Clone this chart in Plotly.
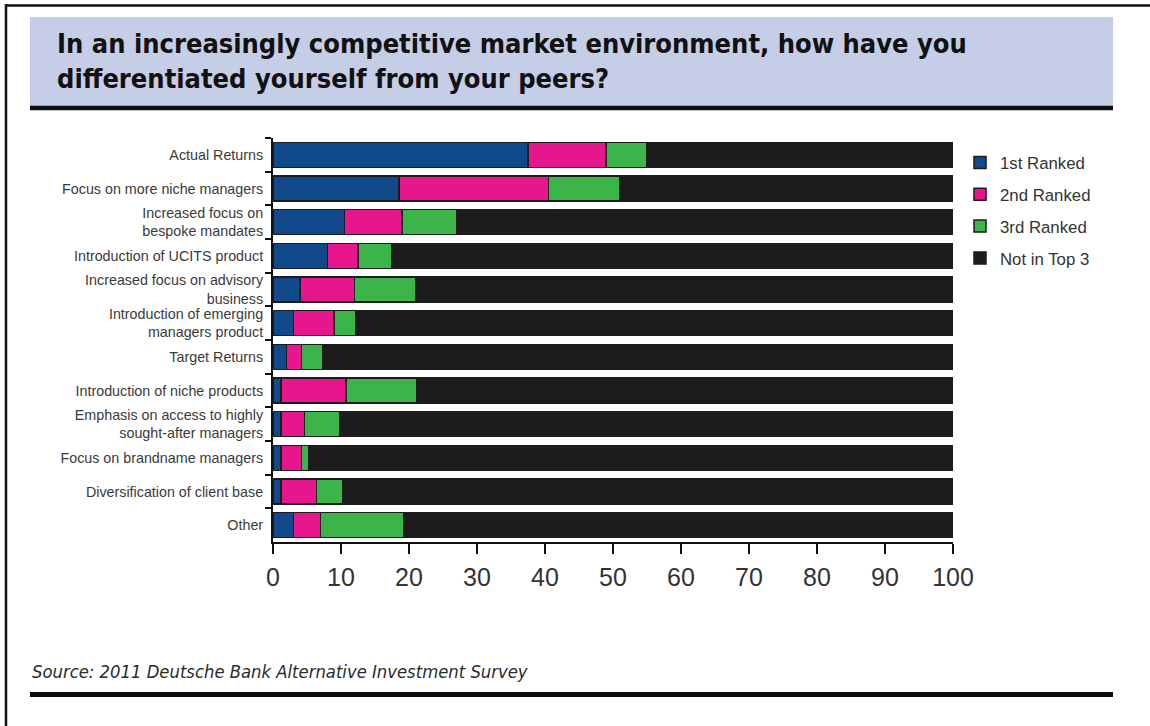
import plotly.graph_objects as go

# Survey answers, top to bottom
categories = [
    "Actual Returns",
    "Focus on more niche managers",
    "Increased focus on<br>bespoke mandates",
    "Introduction of UCITS product",
    "Increased focus on advisory<br>business",
    "Introduction of emerging<br>managers product",
    "Target Returns",
    "Introduction of niche products",
    "Emphasis on access to highly<br>sought-after managers",
    "Focus on brandname managers",
    "Diversification of client base",
    "Other",
]

# Share of respondents (%) by rank
first_ranked = [37.5, 18.5, 10.5, 8.0, 4.0, 3.0, 2.0, 1.2, 1.2, 1.2, 1.2, 3.0]
second_ranked = [11.5, 22.0, 8.5, 4.5, 8.0, 6.0, 2.2, 9.5, 3.4, 3.0, 5.2, 4.0]
third_ranked = [6.0, 10.5, 8.0, 5.0, 9.0, 3.2, 3.1, 10.5, 5.2, 1.0, 3.8, 12.3]
not_in_top3 = [round(100 - a - b - c, 1) for a, b, c in zip(first_ranked, second_ranked, third_ranked)]

series_names = ["1st Ranked", "2nd Ranked", "3rd Ranked", "Not in Top 3"]
series_values = [first_ranked, second_ranked, third_ranked, not_in_top3]
series_colors = ["#114a8a", "#e8168c", "#3bb54a", "#1e1b1c"]

x_ticks = list(range(0, 101, 10))

# Plot-area geometry in page pixels
W, H = 1150, 726
PL, PR, PT, PB = 273, 953, 138, 542

CONDENSED = "Liberation Sans Narrow, DejaVu Sans Condensed, Arial Narrow, sans-serif"


def px_x(v):
    return (v - PL) / (PR - PL)


def px_y(v):
    return (PB - v) / (PB - PT)


fig = go.Figure()
for name, vals, col in zip(series_names, series_values, series_colors):
    fig.add_trace(go.Bar(
        name=name,
        y=categories,
        x=vals,
        orientation="h",
        legendgroup=name,
        marker=dict(color=col, line=dict(color="#1c1c1c", width=1.5)),
        hoverinfo="skip",
    ))

shapes = [
    # outer frame
    dict(type="line", xref="paper", yref="paper", x0=px_x(6), x1=px_x(6),
         y0=px_y(4), y1=px_y(730), line=dict(color="#111", width=2.5)),
    dict(type="line", xref="paper", yref="paper", x0=px_x(5), x1=px_x(1152),
         y0=px_y(5.5), y1=px_y(5.5), line=dict(color="#111", width=2.5)),
    # title band
    dict(type="rect", xref="paper", yref="paper", x0=px_x(30), x1=px_x(1113),
         y0=px_y(17), y1=px_y(106), fillcolor="#c6cde7", line=dict(width=0), layer="below"),
    dict(type="line", xref="paper", yref="paper", x0=px_x(30), x1=px_x(1113),
         y0=px_y(108), y1=px_y(108), line=dict(color="#0d0d0d", width=4.5)),
    # rule under source line
    dict(type="line", xref="paper", yref="paper", x0=px_x(30), x1=px_x(1113),
         y0=px_y(694.5), y1=px_y(694.5), line=dict(color="#0d0d0d", width=5)),
]

annotations = [
    dict(text="<b>In an increasingly competitive market environment, how have you<br>"
              "differentiated yourself from your peers?</b>",
         xref="paper", yref="paper", x=px_x(55), y=px_y(26), xanchor="left", yanchor="top",
         align="left", showarrow=False,
         font=dict(family=CONDENSED, size=27, color="#111")),
    dict(text="<i>Source: 2011 Deutsche Bank Alternative Investment Survey</i>",
         xref="paper", yref="paper", x=px_x(30), y=px_y(671), xanchor="left", yanchor="middle",
         showarrow=False,
         font=dict(family=CONDENSED, size=18.3, color="#2a2a2a")),
]

fig.update_layout(
    width=W, height=H,
    margin=dict(l=PL, r=W - PR, t=PT, b=H - PB),
    paper_bgcolor="white", plot_bgcolor="white",
    barmode="stack", bargap=0.26,
    shapes=shapes, annotations=annotations,
    font=dict(family="Liberation Sans, Arial, sans-serif", color="#333"),
    legend=dict(x=px_x(960), y=px_y(145), xanchor="left", yanchor="top",
                traceorder="grouped", tracegroupgap=7,
                font=dict(size=16.8, color="#333"), bgcolor="rgba(0,0,0,0)"),
    xaxis=dict(range=[0, 100], tickvals=x_ticks, ticktext=[str(t) for t in x_ticks],
               showgrid=False, zeroline=False, showline=True, linecolor="#111", linewidth=2,
               ticks="outside", ticklen=10, tickwidth=2, tickcolor="#111",
               tickfont=dict(size=25, color="#333"), ticklabelstandoff=2, fixedrange=True),
    yaxis=dict(autorange="reversed", categoryorder="array", categoryarray=categories,
               showgrid=False, zeroline=False, showline=True, linecolor="#111", linewidth=2,
               ticks="outside", tickson="boundaries", ticklen=6, tickwidth=2, tickcolor="#111",
               tickfont=dict(size=14.3, color="#3a3a3a"), ticklabelstandoff=5, fixedrange=True),
)

fig.write_html("out.html")
